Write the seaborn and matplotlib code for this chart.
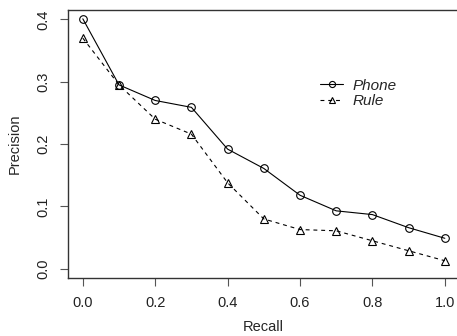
import matplotlib
matplotlib.use("Agg")
import matplotlib.pyplot as plt
import pandas as pd
import seaborn as sns

recall = [0.0, 0.1, 0.2, 0.3, 0.4, 0.5, 0.6, 0.7, 0.8, 0.9, 1.0]
phone = [0.401, 0.295, 0.270, 0.259, 0.192, 0.161, 0.118, 0.093, 0.087, 0.066, 0.049]
rule = [0.370, 0.295, 0.240, 0.216, 0.138, 0.080, 0.063, 0.061, 0.045, 0.029, 0.013]
series = ["Phone", "Rule"]
xticks = [0.0, 0.2, 0.4, 0.6, 0.8, 1.0]
yticks = [0.0, 0.1, 0.2, 0.3, 0.4]

df = pd.DataFrame({
    "Recall": recall * 2,
    "Precision": phone + rule,
    "method": [series[0]] * len(recall) + [series[1]] * len(recall),
})

sns.set_theme(style="ticks")
plt.rcParams["font.family"] = ["Liberation Sans", "DejaVu Sans"]

fig = plt.figure(figsize=(4.57, 3.36), dpi=100)
ax = fig.add_axes([0.149, 0.173, 0.856, 0.797])

sns.lineplot(data=df, x="Recall", y="Precision", style="method",
             markers={"Phone": "o", "Rule": "^"},
             dashes={"Phone": "", "Rule": (3.5, 3.5)},
             color="black", linewidth=0.8, markersize=5.5, legend=False, ax=ax)

for line in ax.lines:
    line.set_markerfacecolor("none")
    line.set_markeredgecolor("black")
    line.set_markeredgewidth(0.8)

ax.set_xlim(-0.0407, 1.04)
ax.set_ylim(-0.0145, 0.415)
ax.set_xticks(xticks, [f"{t:.1f}" for t in xticks])
ax.set_yticks(yticks, [f"{t:.1f}" for t in yticks])
plt.setp(ax.get_yticklabels(), rotation=90, va="center")
ax.tick_params(direction="out", length=6, width=0.8, color="#555555",
               labelsize=10.5, labelcolor="#222222", pad=7)
for side in ["left", "top", "bottom", "right"]:
    ax.spines[side].set_color("#333333")
    ax.spines[side].set_linewidth(1.0)

ax.set_xlabel("Recall", fontsize=10.5, labelpad=7)
ax.set_ylabel("Precision", fontsize=10.5, labelpad=10)

ax.legend(handles=ax.lines[:2], labels=series, loc="upper left",
          bbox_to_anchor=(0.61, 0.795), frameon=False, handlelength=1.5,
          handletextpad=0.6, labelspacing=0.1, markerscale=0.8,
          prop={"style": "italic", "size": 11})

fig.savefig("out.png", dpi=100)
